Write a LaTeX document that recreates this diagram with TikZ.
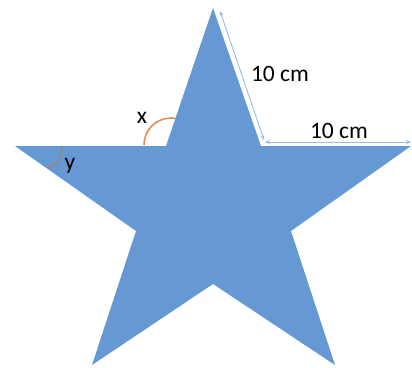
\documentclass[tikz,border=0pt]{standalone}
\usepackage{fontspec}
\setmainfont{Carlito}
\usetikzlibrary{arrows.meta}
\definecolor{starblue}{RGB}{102,153,212}
\definecolor{dimblue}{RGB}{150,190,228}
\definecolor{arcorange}{RGB}{232,140,80}
\definecolor{arcgrey}{RGB}{150,135,125}
\tikzset{
  lbl/.style={inner sep=0pt, anchor=base, font=\fontsize{23.5}{28}\selectfont},
  dimline/.style={draw=dimblue, line width=0.9pt, {Stealth[length=5pt,width=4pt]}-{Stealth[length=5pt,width=4pt]}},
  anglearc/.style={line width=1.6pt}
}
\begin{document}
\begin{tikzpicture}[x=1pt,y=-1pt]
\useasboundingbox (0,0) rectangle (412,367);
% star vertices
\coordinate (T) at (213,8);
\coordinate (IUR) at (261,146);
\coordinate (R) at (411,146);
\coordinate (ILR) at (291,231);
\coordinate (BR) at (335,365);
\coordinate (IB) at (213,284);
\coordinate (BL) at (92,365);
\coordinate (ILL) at (136,231);
\coordinate (L) at (15,146);
\coordinate (IUL) at (166,146);
\fill[starblue] (T) -- (IUR) -- (R) -- (ILR) -- (BR) -- (IB) -- (BL) -- (ILL) -- (L) -- (IUL) -- cycle;
% dimension arrows
\coordinate (d1a) at (220,11);
\coordinate (d1b) at (264,140);
\coordinate (d2a) at (265,142);
\coordinate (d2b) at (411,142);
\draw[white, line width=2.2pt] (d1a) -- (d1b);
\draw[white, line width=2.2pt] (d2a) -- (d2b);
\draw[dimline] (d1a) -- (d1b);
\draw[dimline] (d2a) -- (d2b);
% angle arcs (y axis points down, so angles are mirrored)
\draw[arcorange, anglearc] (144,145) arc[start angle=180, end angle=280, radius=27];
\draw[arcgrey, anglearc] ([shift={(-13:18)}]44,150) arc[start angle=-13, end angle=80, radius=18];
% labels
\node[lbl] (lblx) at (142,123) {x};
\node[lbl] (lbly) at (70,169) {y};
\node[lbl] (lblslant) at (280,81) {10 cm};
\node[lbl] (lblhoriz) at (339,138) {10 cm};
\end{tikzpicture}
\end{document}
